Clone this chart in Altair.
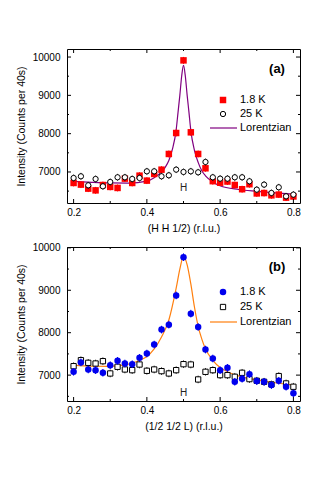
import altair as alt
import pandas as pd

FONT = "Liberation Sans"

# ---------------- data ----------------
h_pts = [0.20, 0.22, 0.24, 0.26, 0.28, 0.30, 0.32, 0.34, 0.36, 0.38, 0.40,
         0.42, 0.44, 0.46, 0.48, 0.50, 0.52, 0.54, 0.56, 0.58, 0.60, 0.62,
         0.64, 0.66, 0.68, 0.70, 0.72, 0.74, 0.76, 0.78, 0.80]

a_18K = [6713, 6670, 6565, 6520, 6660, 6610, 6583, 6826, 6713, 6904, 6774,
         6948, 7060, 7470, 8017, 9913, 8035, 7470, 7096, 6760, 6720, 6750,
         6660, 6550, 6680, 6440, 6450, 6390, 6410, 6330, 6360]
a_25K = [6843, 6887, 6652, 6817, 6626, 6739, 6861, 6861, 6817, 6843, 7017,
         7017, 6887, 6913, 7061, 7000, 7017, 6991, 7261, 6861, 6826, 6826,
         6861, 6861, 6757, 6539, 6670, 6452, 6600, 6365, 6409]
fit_a_x = [0.20, 0.25, 0.30, 0.35, 0.40, 0.42, 0.44, 0.45, 0.46, 0.47, 0.48,
           0.485, 0.49, 0.495, 0.50, 0.505, 0.51, 0.515, 0.52, 0.53, 0.54,
           0.55, 0.56, 0.58, 0.60, 0.65, 0.70, 0.75, 0.80]
fit_a_y = [6753, 6730, 6714, 6710, 6760, 6850, 7000, 7120, 7300, 7600, 8100,
           8550, 9000, 9500, 9780, 9500, 9000, 8550, 8080, 7560, 7250,
           7030, 6900, 6740, 6640, 6542, 6494, 6455, 6423]

b_18K = [7078, 7300, 7133, 7117, 7055, 7235, 7337, 7274, 7258, 7407, 7509,
         7720, 8073, 8190, 8879, 9780, 8449, 8135, 7603, 7392, 7117, 7172,
         6843, 6914, 7023, 6859, 6843, 6765, 6867, 6726, 6570]
b_25K = [7211, 7352, 7290, 7274, 7329, 7039, 7196, 7133, 7117, 7250, 7102,
         7133, 7094, 7039, 7117, 7258, 7250, 6898, 7078, 7117, 7000, 7000,
         6961, 7055, 6906, 6867, 6843, 6781, 6977, 6804, 6726]
fit_b_x = [0.20, 0.25, 0.30, 0.34, 0.36, 0.38, 0.40, 0.42, 0.44, 0.46, 0.48,
           0.49, 0.50, 0.51, 0.52, 0.53, 0.54, 0.55, 0.56, 0.58, 0.60, 0.62,
           0.65, 0.70, 0.75, 0.80]
fit_b_y = [7234, 7209, 7205, 7240, 7280, 7350, 7440, 7620, 7900, 8300, 9050,
           9500, 9800, 9600, 9150, 8600, 8150, 7850, 7620, 7350, 7180, 7080,
           6981, 6886, 6820, 6767]

err_counts = 90  # typical error bar half-length (counts)

res_mark = {"a": (0.50, 6582), "b": (0.50, 6585)}

x_major = [0.2, 0.4, 0.6, 0.8]
x_minor = [0.3, 0.5, 0.7]
y_major = [7000, 8000, 9000, 10000]
y_minor = [6500, 7500, 8500, 9500]

W, H = 233, 154
X_DOM = [0.182, 0.818]


def panel(tag, y18, y25, fx, fy, y_dom, col18, shape18, shape25, line_col,
          xtitle):
    pts = pd.DataFrame({"h": h_pts, "y18": y18, "y25": y25})
    pts["lo18"] = pts["y18"] - err_counts
    pts["hi18"] = pts["y18"] + err_counts
    pts["lo25"] = pts["y25"] - err_counts
    pts["hi25"] = pts["y25"] + err_counts
    fit = pd.DataFrame({"h": fx, "y": fy})

    xs = alt.Scale(domain=X_DOM, nice=False, zero=False)
    ys = alt.Scale(domain=y_dom, nice=False, zero=False)
    xax = alt.Axis(values=x_major, format=".1f", ticks=False, grid=False,
                   domain=False, labelPadding=4, titlePadding=6, title=xtitle,
                   titleFontWeight="normal")
    yax = alt.Axis(values=y_major, format="d", ticks=False, grid=False,
                   domain=False, labelPadding=7, titlePadding=6,
                   title="Intensity (Counts per 40s)", titleFontWeight="normal")

    base = alt.Chart(pts)
    X = alt.X("h:Q", scale=xs, axis=xax)
    Y = lambda f: alt.Y(f, scale=ys, axis=yax)

    line = alt.Chart(fit).mark_line(color=line_col, strokeWidth=1.2,
                                    interpolate="monotone").encode(
        x=X, y=Y("y:Q"))

    eb25 = base.mark_rule(color="black", strokeWidth=0.8).encode(
        x=X, y=Y("lo25:Q"), y2="hi25:Q")
    p25 = base.mark_point(shape=shape25, filled=False, fill="white",
                          fillOpacity=1, color="black", strokeWidth=1,
                          size=28, opacity=1).encode(x=X, y=Y("y25:Q"))
    eb18 = base.mark_rule(color=col18, strokeWidth=1).encode(
        x=X, y=Y("lo18:Q"), y2="hi18:Q")
    p18 = base.mark_point(shape=shape18, filled=True, color=col18, size=42,
                          opacity=1).encode(x=X, y=Y("y18:Q"))

    rx, ry = res_mark[tag]
    res = alt.Chart(pd.DataFrame({"h": [rx], "y": [ry], "t": ["H"]})).mark_text(
        font=FONT, fontSize=10, color="#222222").encode(
        x=X, y=Y("y:Q"), text="t:N")

    # inward ticks
    tk = []
    for vals, ln in ((x_major, 4), (x_minor, 2)):
        d = alt.Chart(pd.DataFrame({"h": vals}))
        tk.append(d.mark_rule(color="black").encode(
            x=X, y=alt.value(H), y2=alt.value(H - ln)))
        tk.append(d.mark_rule(color="black").encode(
            x=X, y=alt.value(0), y2=alt.value(ln)))
    for vals, ln in ((y_major, 4), (y_minor, 2)):
        d = alt.Chart(pd.DataFrame({"y": vals}))
        tk.append(d.mark_rule(color="black").encode(
            y=Y("y:Q"), x=alt.value(0), x2=alt.value(ln)))
        tk.append(d.mark_rule(color="black").encode(
            y=Y("y:Q"), x=alt.value(W), x2=alt.value(W - ln)))

    # panel label
    lab = alt.Chart(pd.DataFrame({"t": ["(" + tag + ")"]})).mark_text(
        font=FONT, fontSize=13, fontWeight="bold", color="black").encode(
        text="t:N", x=alt.value(210), y=alt.value(20))

    # legend
    ly = [51, 65, 79] if tag == "a" else [45, 60, 75]
    lx = 156
    leg_df = pd.DataFrame({"t": ["1.8 K", "25 K", "Lorentzian"]})
    leg = []
    leg.append(alt.Chart(leg_df.iloc[[0]]).mark_point(
        shape=shape18, filled=True, color=col18, size=42, opacity=1).encode(
        x=alt.value(lx), y=alt.value(ly[0])))
    leg.append(alt.Chart(leg_df.iloc[[1]]).mark_point(
        shape=shape25, filled=False, fill="white", color="black", size=28,
        strokeWidth=1, opacity=1).encode(x=alt.value(lx), y=alt.value(ly[1])))
    leg.append(alt.Chart(leg_df.iloc[[2]]).mark_rule(
        color=line_col, strokeWidth=1.2).encode(
        x=alt.value(lx - 13), x2=alt.value(lx + 14), y=alt.value(ly[2])))
    for i in range(3):
        leg.append(alt.Chart(leg_df.iloc[[i]]).mark_text(
            font=FONT, fontSize=11, align="left", baseline="middle",
            color="black").encode(text="t:N", x=alt.value(lx + 17),
                                  y=alt.value(ly[i])))

    if tag == "a":
        data_layers = [line, eb18, p18, eb25, p25]
    else:
        data_layers = [line, eb25, p25, eb18, p18]
    return alt.layer(*data_layers, res, *tk, lab, *leg).properties(
        width=W, height=H)


pa = panel("a", a_18K, a_25K, fit_a_x, fit_a_y, [6190, 10210], "#ff0000",
           "square", "circle", "#800080", "(H H 1/2) (r.l.u.)")
pb = panel("b", b_18K, b_25K, fit_b_x, fit_b_y, [6390, 10020], "#0000ee",
           "circle", "square", "#ff7f0e", "(1/2 1/2 L) (r.l.u.)")

chart = alt.vconcat(pa, pb, spacing=8).properties(
    padding={"left": 7, "top": 40, "right": 5, "bottom": 5},
    background="white"
).configure_view(stroke="black", strokeWidth=1).configure_axis(
    labelFont=FONT, titleFont=FONT, labelFontSize=10, titleFontSize=10.5,
    titleFontWeight="normal", labelColor="black", titleColor="black"
)

chart.save("out.html", embed_options={"renderer": "svg", "actions": False})
